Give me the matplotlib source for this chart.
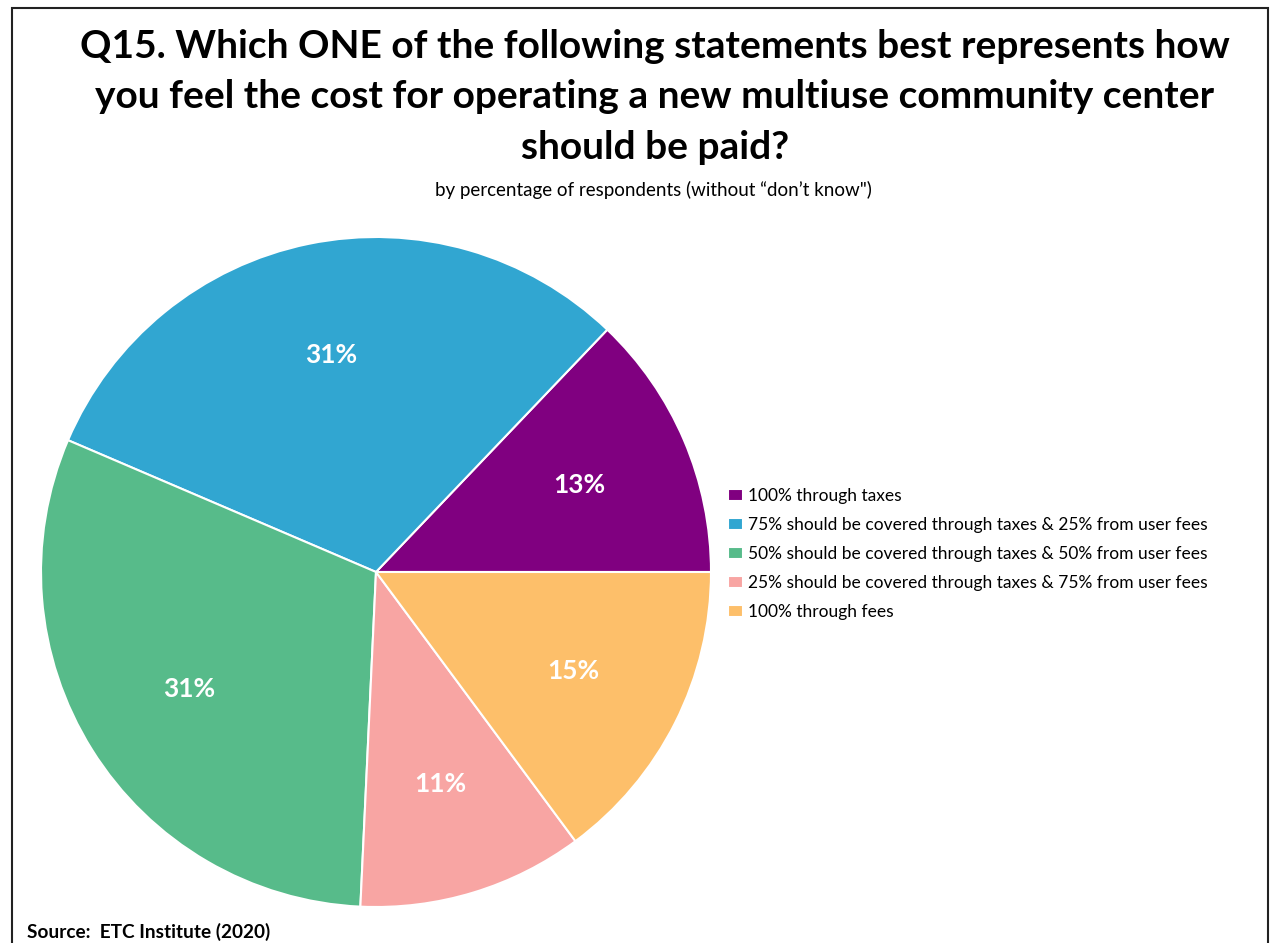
import matplotlib; matplotlib.use('Agg')
import matplotlib.pyplot as plt
from matplotlib.patches import Rectangle

plt.rcParams['font.family'] = ['Lato', 'DejaVu Sans']

# Data
categories = ['100% through taxes',
              '75% should be covered through taxes & 25% from user fees',
              '50% should be covered through taxes & 50% from user fees',
              '25% should be covered through taxes & 75% from user fees',
              '100% through fees']
values = [13, 31, 31, 11, 15]
colors = ['#800080', '#31A6D1', '#57BB8A', '#F8A5A3', '#FDBF6A']

title = ('Q15. Which ONE of the following statements best represents how\n'
         'you feel the cost for operating a new multiuse community center\n'
         'should be paid?')
subtitle = 'by percentage of respondents (without \u201cdon\u2019t know")'
source = 'Source:  ETC Institute (2020)'

fig = plt.figure(figsize=(12.7, 9.43), dpi=100)

# outer frame
fig.patches.append(Rectangle((12/1270, -0.01), 1256/1270, 1 - 8/943 + 0.01,
                             transform=fig.transFigure, fill=False,
                             edgecolor='#222222', linewidth=1.5))

ax = fig.add_axes([41/1270, 36/943, 670/1270, 670/943])
wedges, texts, autotexts = ax.pie(values, colors=colors, startangle=0,
                                  counterclock=True,
                                  autopct=lambda p: f'{p * sum(values) / 100:.0f}%',
                                  pctdistance=0.66,
                                  wedgeprops=dict(edgecolor='white', linewidth=1.5),
                                  textprops=dict(color='white', fontsize=19, fontweight='bold'))
ax.set_xlim(-1, 1)
ax.set_ylim(-1, 1)
ax.set_aspect('equal')

fig.text(655/1270, 1 - 97/943, title, ha='center', va='center', fontsize=28,
         fontweight='bold', linespacing=1.55)
fig.text(653/1270, 1 - 190/943, subtitle, ha='center', va='center', fontsize=13.5)
fig.text(27/1270, 1 - 932/943, source, ha='left', va='center', fontsize=13.7,
         fontweight='bold')

fig.legend(wedges, categories, loc='center left',
           bbox_to_anchor=(712/1270, 1 - 554/943), frameon=False, fontsize=12.5,
           handlelength=0.9, handleheight=0.7, handletextpad=0.3,
           labelspacing=0.75)

fig.savefig('out.png', dpi=100)
